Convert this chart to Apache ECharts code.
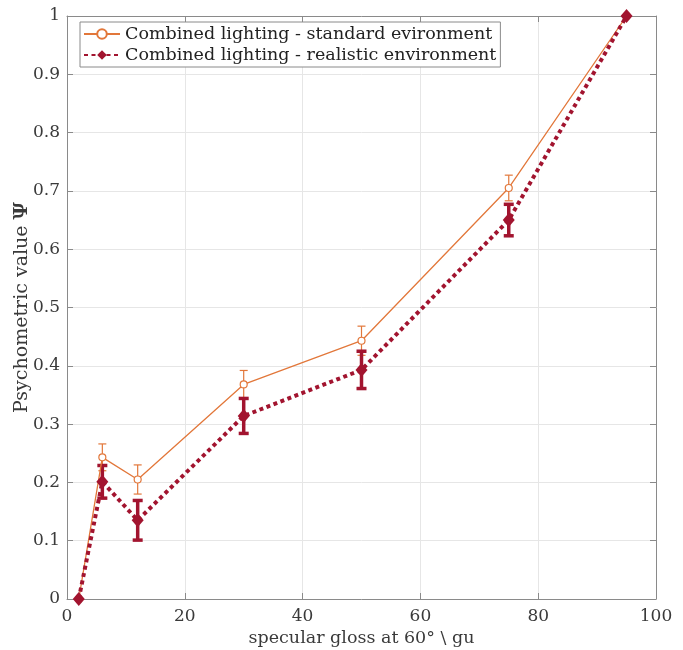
<!DOCTYPE html>
<html><head><meta charset="utf-8">
<script src="https://cdn.jsdelivr.net/npm/echarts@6/dist/echarts.min.js"></script>
<style>html,body{margin:0;padding:0;background:#fff}#c{width:683px;height:650px}</style>
</head><body><div id="c"></div>
<script>
const gloss = [2, 6, 12, 30, 50, 75, 95];
const stdValues = [0, 0.243, 0.205, 0.368, 0.443, 0.705, 1];
const stdErr = [0, 0.023, 0.025, 0.024, 0.025, 0.022, 0];
const realValues = [0, 0.201, 0.135, 0.314, 0.393, 0.650, 1];
const realErr = [0, 0.028, 0.034, 0.030, 0.032, 0.027, 0];
const stdName = 'Combined lighting - standard evironment';
const realName = 'Combined lighting - realistic environment';
const ORANGE = '#E2773A', RED = '#A2142F';
const FONT = 'DejaVu Serif';
const TXT = '#3a3a3a';

function errData(vals, errs) {
  return gloss.map((x, i) => [x, vals[i] - errs[i], vals[i] + errs[i]]).filter((d, i) => errs[i] > 0);
}
function errSeries(name, vals, errs, color, width, cap) {
  return {
    type: 'custom', name: name, z: 3,
    data: errData(vals, errs),
    renderItem: function (params, api) {
      const lo = api.coord([api.value(0), api.value(1)]);
      const hi = api.coord([api.value(0), api.value(2)]);
      const s = {stroke: color, lineWidth: width};
      return {type: 'group', children: [
        {type: 'line', shape: {x1: lo[0], y1: lo[1], x2: hi[0], y2: hi[1]}, style: s},
        {type: 'line', shape: {x1: lo[0] - cap, y1: lo[1], x2: lo[0] + cap, y2: lo[1]}, style: s},
        {type: 'line', shape: {x1: hi[0] - cap, y1: hi[1], x2: hi[0] + cap, y2: hi[1]}, style: s}
      ]};
    },
    encode: {x: 0, y: [1, 2]},
    tooltip: {show: false}
  };
}
const axisCommon = {
  axisLine: {show: true, onZero: false, lineStyle: {color: '#8a8a8a', width: 1}},
  axisTick: {show: true, inside: true, length: 6, lineStyle: {color: '#8a8a8a'}},
};
const chart = echarts.init(document.getElementById('c'), null, {renderer: 'canvas'});
chart.setOption({
  animation: false,
  backgroundColor: '#fff',
  grid: {left: 67, right: 27, top: 16, bottom: 51, containLabel: false, outerBoundsMode: 'none'},
  legend: {
    left: 80, top: 22, orient: 'vertical', itemGap: 3, itemWidth: 36, itemHeight: 12,
    padding: [3, 4, 3, 3],
    borderColor: '#8a8a8a', borderWidth: 1, backgroundColor: '#fff',
    textStyle: {fontFamily: FONT, fontSize: 17.5, color: '#222'},
    data: [{name: stdName}, {name: realName}]
  },
  xAxis: [
    Object.assign({}, axisCommon, {
      type: 'value', min: 0, max: 100, interval: 20, position: 'bottom',
      name: 'specular gloss at 60° \\ gu', nameLocation: 'middle', nameGap: 30,
      nameTextStyle: {fontFamily: FONT, fontSize: 17.5, color: TXT},
      axisLabel: {fontFamily: FONT, fontSize: 17, color: TXT, margin: 9},
      splitLine: {show: true, lineStyle: {color: '#e6e6e6'}}
    }),
    Object.assign({}, axisCommon, {
      type: 'value', min: 0, max: 100, interval: 20, position: 'top',
      axisLabel: {show: false}, splitLine: {show: false}
    })
  ],
  yAxis: [
    Object.assign({}, axisCommon, {
      type: 'value', min: 0, max: 1, interval: 0.1, position: 'left',
      name: '{n|Psychometric value }{b|Ψ}', nameLocation: 'middle', nameGap: 35,
      nameMoveOverlap: false,
      nameTextStyle: {fontFamily: FONT, fontSize: 19, color: TXT,
        rich: {n: {fontFamily: FONT, fontSize: 19, color: TXT}, b: {fontFamily: FONT, fontSize: 19, fontWeight: 'bold', color: TXT}}},
      axisLabel: {fontFamily: FONT, fontSize: 17, color: TXT, margin: 7},
      splitLine: {show: true, lineStyle: {color: '#e6e6e6'}}
    }),
    Object.assign({}, axisCommon, {
      type: 'value', min: 0, max: 1, interval: 0.1, position: 'right',
      axisLabel: {show: false}, splitLine: {show: false}
    })
  ],
  series: [
    {
      name: stdName, type: 'line', z: 4,
      data: gloss.map((x, i) => [x, stdValues[i]]),
      lineStyle: {color: ORANGE, width: 1.3},
      itemStyle: {color: '#fff', borderColor: ORANGE, borderWidth: 1.2},
      symbol: 'circle', symbolSize: 7, showAllSymbol: true
    },
    errSeries(stdName, stdValues, stdErr, ORANGE, 1.2, 4),
    {
      name: realName, type: 'line', z: 5,
      data: gloss.map((x, i) => [x, realValues[i]]),
      lineStyle: {color: RED, width: 4, type: [4, 3.5]},
      itemStyle: {color: RED},
      symbol: 'diamond', symbolSize: [12, 14], showAllSymbol: true
    },
    errSeries(realName, realValues, realErr, RED, 3.5, 5)
  ]
});
</script></body></html>
